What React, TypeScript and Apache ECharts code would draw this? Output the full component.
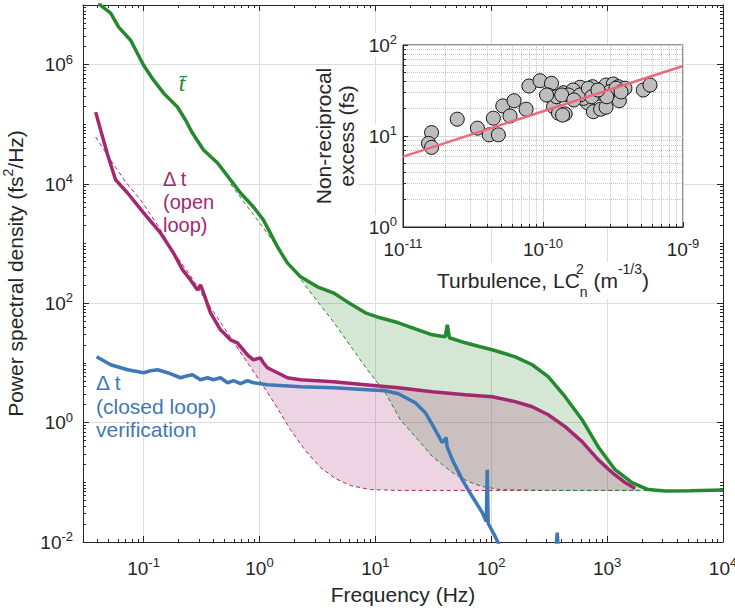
import React, { useEffect, useRef } from "react";
import * as echarts from "echarts";

const GREEN = "#26882f";
const PURPLE = "#a3296f";
const BLUE = "#3f78b5";
const INK = "#262626";
const FONT = "Liberation Sans, Arial, Helvetica, sans-serif";

// [frequency (Hz), PSD (fs^2/Hz)]
const greenSolid = [
  [0.0386, 1.45e7], [0.0426, 9.9e6], [0.052, 7.28e6], [0.0609, 4.25e6], [0.0773, 2.57e6],
  [0.1, 9.8e5], [0.122, 5.5e5], [0.149, 3.33e5], [0.196, 1.95e5], [0.23, 1.18e5],
  [0.264, 7.14e4], [0.329, 3.71e4], [0.435, 2.25e4], [0.562, 1.17e4], [0.686, 7.07e3],
  [0.888, 4.12e3], [1.08, 2.5e3], [1.24, 1.51e3], [1.43, 883], [1.74, 476], [2.26, 278],
  [3.16, 189], [4.34, 150], [6.09, 98], [8.2, 69.3], [11.0, 57.2], [15.8, 47.2], [22.1, 37.4],
  [31.0, 29.7], [40.1, 27.5], [41.8, 43.7], [43.5, 26.5], [59.7, 21.8], [80.4, 18.7],
  [102, 16.7], [161, 12.7], [226, 9.35], [310, 5.89], [434, 2.72], [608, 1.12], [836, 0.396],
  [1172, 0.163], [1643, 0.099], [2256, 0.0756], [3162, 0.0714], [5197, 0.0723], [10000, 0.0741],
];

const greenFit = [
  [0.562, 1.0e4], [1.08, 1.84e3], [1.74, 514], [2.65, 168], [4.34, 49], [6.09, 19.4],
  [8.53, 7.7], [12.2, 3.18], [16.4, 1.12], [22.1, 0.583], [31.0, 0.27], [46.1, 0.146],
  [63.4, 0.103], [83.6, 0.085], [120, 0.0756], [323, 0.0731], [2350, 0.0731],
];

const purpleSolid = [
  [0.0386, 1.6e5], [0.0426, 8.0e4], [0.049, 3.06e4], [0.0574, 1.17e4], [0.0728, 7.07e3],
  [0.1, 3.27e3], [0.14, 1.51e3], [0.181, 700], [0.217, 364], [0.254, 247], [0.292, 168],
  [0.31, 204], [0.329, 150], [0.378, 69.3], [0.461, 36], [0.562, 24.5], [0.646, 21.8],
  [0.788, 13.7], [0.888, 11.3], [1.02, 12.2], [1.08, 10.1], [1.17, 8.33], [1.43, 6.87],
  [1.74, 5.66], [2.26, 5.24], [4.34, 4.86], [8.2, 4.33], [15.8, 3.85], [31.0, 3.3],
  [59.7, 2.94], [102, 2.72], [161, 2.25], [226, 1.85], [310, 1.36], [434, 0.857],
  [608, 0.481], [836, 0.24], [1105, 0.146], [1430, 0.099], [1743, 0.0786],
];

const purpleFit = [
  [0.0386, 6.12e4], [0.052, 2.52e4], [0.07, 1.08e4], [0.0942, 5.4e3], [0.132, 2.06e3],
  [0.181, 728], [0.254, 289], [0.342, 114], [0.53, 32.1], [0.757, 11.3], [1.02, 4.86],
  [1.37, 2.0], [1.85, 0.764], [2.49, 0.34], [3.36, 0.177], [4.52, 0.116], [6.09, 0.0883],
  [9.06, 0.0756], [16.4, 0.0731], [1924, 0.0731],
];

const blueSolid = [
  [0.0393, 12.7], [0.052, 9.35], [0.0728, 7.71], [0.1, 6.87], [0.115, 7.42], [0.132, 7.71],
  [0.161, 6.87], [0.208, 5.66], [0.239, 6.12], [0.264, 6.36], [0.31, 5.24], [0.356, 5.66],
  [0.401, 5.24], [0.461, 5.66], [0.53, 4.67], [0.597, 5.05], [0.686, 4.5], [0.788, 5.05],
  [0.888, 4.67], [1.17, 4.33], [2.26, 4.01], [4.34, 3.85], [8.53, 3.57], [12.2, 3.43],
  [15.8, 3.06], [22.1, 2.16], [27.0, 1.47], [31.0, 0.926], [37.8, 0.463], [40.9, 0.561],
  [41.5, 0.4], [46.1, 0.24], [56.2, 0.111], [68.6, 0.0578], [83.6, 0.0312], [90.6, 0.022],
  [92.4, 0.163], [94.2, 0.0204], [108, 0.0124], [120, 0.0081], [264, 0.0051], [356, 0.0051],
  [371, 0.0144], [385, 0.0051], [871, 0.0035],
];

// shaded frequency ranges (Hz)
const greenBand = [2.2, 2400];
const pinkBand = [0.55, 2000];

// inset: [turbulence LCn^2 (m^-1/3), non-reciprocal excess (fs)]
const insetPoints = [
  [1.6e-11, 10.9], [1.52e-11, 8.3], [1.6e-11, 7.5], [2.44e-11, 15.3], [3.4e-11, 12.2],
  [4.13e-11, 10.3], [4.8e-11, 10.3], [4.42e-11, 15.7], [5.16e-11, 21.4], [5.81e-11, 16.6],
  [6.21e-11, 24.4], [7.57e-11, 19.7], [7.94e-11, 35.4], [9.52e-11, 40.5], [1.15e-10, 37.9],
  [1.09e-10, 28.2], [1.19e-10, 21.0], [1.29e-10, 17.8], [1.44e-10, 17.5], [1.4e-10, 29.9],
  [1.84e-10, 34.3], [2.07e-10, 23.2], [2.26e-10, 34.8], [2.29e-10, 18.5], [2.58e-10, 19.7],
  [2.82e-10, 20.7], [2.82e-10, 36.3], [3.18e-10, 37.3], [3.45e-10, 34.8], [3.85e-10, 33.5],
  [3.51e-10, 24.4], [5.2e-10, 32.0], [5.81e-10, 36.3], [1.64e-10, 32.0], [1.52e-10, 28.2],
  [1.25e-10, 27.0], [1.94e-10, 25.9], [2.55e-10, 29.5], [3.01e-10, 30.7], [1.84e-10, 28.2],
  [1.38e-10, 17.0], [1.06e-10, 28.2], [1.36e-10, 28.2], [2.11e-10, 33.5], [3.32e-10, 33.5],
  [2.23e-10, 27.0], [2.85e-10, 27.0], [1.66e-10, 24.9], [2.47e-10, 32.0], [3.61e-10, 30.5],
];
const fitLine = [[1e-11, 5.93], [1e-9, 58.8]];

const mainXLabels = [0.1, 1, 10, 100, 1000, 10000];
const mainYLabels = [0.01, 1, 100, 1e4, 1e6];
const insetXLabels = [1e-11, 1e-10, 1e-9];
const insetYLabels = [1, 10, 100];

function decadeTicks(fromExp: number, toExp: number, exclude: number[]) {
  const out: number[] = [];
  for (let e = fromExp; e <= toExp; e++) {
    for (let k = 1; k <= 9; k++) {
      const v = k * Math.pow(10, e);
      if (!exclude.some((x) => Math.abs(x - v) / v < 1e-9)) out.push(v);
    }
  }
  return out;
}

const powLabel = (v: number) => `{b|10}{s|${Math.round(Math.log10(v))}}`;
const tickRich = {
  b: { fontSize: 19, lineHeight: 24, color: INK, fontFamily: FONT },
  s: { fontSize: 13, verticalAlign: "top", color: INK, fontFamily: FONT },
};

function band(upper: number[][], lower: number[][], range: number[], color: string) {
  return (params: any, api: any) => {
    const up = upper.filter((p) => p[0] >= range[0] && p[0] <= range[1]).map((p) => api.coord(p));
    const dn = lower
      .filter((p) => p[0] >= range[0] && p[0] <= range[1])
      .map((p) => api.coord(p))
      .reverse();
    return { type: "polygon", shape: { points: up.concat(dn) }, style: { fill: color }, silent: true };
  };
}

export default function App() {
  const ref = useRef<HTMLDivElement>(null);
  useEffect(() => {
    if (!ref.current) return;
    const chart = echarts.init(ref.current, undefined, { renderer: "svg" });

    const mainGrid = { left: 83, top: 5, width: 640, height: 537, outerBoundsMode: "none", containLabel: false };
    const insetGrid = { left: 403, top: 45, width: 280, height: 182, outerBoundsMode: "none", containLabel: false };
    const xMinor = decadeTicks(-2, 3, mainXLabels);
    const yMinor = decadeTicks(-2, 6, mainYLabels);
    const ixMinor = decadeTicks(-11, -10, insetXLabels);
    const iyMinor = decadeTicks(0, 1, insetYLabels);

    const baseAxis = (extra: any) => ({
      type: "log",
      logBase: 10,
      z: 0,
      axisLine: { show: true, onZero: false, lineStyle: { color: INK, width: 1 } },
      axisTick: { show: true, inside: true, length: 6, lineStyle: { color: INK } },
      axisLabel: { show: false },
      splitLine: { show: false },
      minorTick: { show: false },
      ...extra,
    });

    const option: any = {
      animation: false,
      textStyle: { fontFamily: FONT },
      grid: [
        { ...mainGrid, show: false, z: 0 },
        { ...mainGrid, show: false, z: 0 },
        { ...insetGrid, show: true, backgroundColor: "#ffffff", borderColor: INK, borderWidth: 1, z: 3 },
        { ...insetGrid, show: false, z: 3 },
      ],
      xAxis: [
        baseAxis({
          gridIndex: 0, position: "bottom", min: 0.03, max: 1e4,
          axisTick: { show: true, inside: true, length: 6, customValues: mainXLabels, lineStyle: { color: INK } },
          axisLabel: { show: true, customValues: mainXLabels, formatter: powLabel, rich: tickRich, margin: 14 },
          splitLine: { show: true, lineStyle: { color: "#dedede", width: 1 } },
          name: "Frequency (Hz)", nameLocation: "middle", nameGap: 42,
          nameTextStyle: { fontSize: 21, color: INK, fontFamily: FONT },
        }),
        baseAxis({
          gridIndex: 0, position: "top", min: 0.03, max: 1e4,
          axisTick: { show: true, inside: true, length: 6, customValues: mainXLabels, lineStyle: { color: INK } },
        }),
        baseAxis({
          gridIndex: 1, position: "bottom", min: 0.03, max: 1e4,
          axisLine: { show: false },
          axisTick: { show: true, inside: true, length: 3, customValues: xMinor, lineStyle: { color: INK } },
        }),
        baseAxis({
          gridIndex: 1, position: "top", min: 0.03, max: 1e4,
          axisLine: { show: false },
          axisTick: { show: true, inside: true, length: 3, customValues: xMinor, lineStyle: { color: INK } },
        }),
        baseAxis({
          gridIndex: 2, position: "bottom", min: 1e-11, max: 1e-9, z: 4,
          axisLine: { show: true, onZero: false, lineStyle: { color: INK } },
          axisTick: { show: true, inside: true, length: 5, customValues: insetXLabels, lineStyle: { color: INK } },
          axisLabel: {
            show: true, customValues: insetXLabels, formatter: powLabel, rich: tickRich, margin: 10,
            backgroundColor: "#ffffff",
          },
          splitLine: { show: true, lineStyle: { color: "#d4d4d4", width: 1 } },
          name: "Turbulence, LC{up|2}{dn|n} (m{sp|-1/3})", nameLocation: "middle", nameGap: 29,
          nameTextStyle: {
            fontSize: 21, lineHeight: 37, color: INK, fontFamily: FONT, backgroundColor: "#ffffff",
            rich: {
              up: { fontSize: 14, lineHeight: 16, verticalAlign: "top", width: 0, color: INK, fontFamily: FONT },
              dn: { fontSize: 14, lineHeight: 16, verticalAlign: "bottom", color: INK, fontFamily: FONT },
              sp: { fontSize: 14, lineHeight: 16, verticalAlign: "top", color: INK, fontFamily: FONT },
            },
          },
        }),
        baseAxis({
          gridIndex: 3, position: "bottom", min: 1e-11, max: 1e-9, z: 4,
          axisLine: { show: false },
          axisTick: { show: true, inside: true, length: 3, customValues: ixMinor, lineStyle: { color: INK } },
          splitLine: { show: true, lineStyle: { color: "#c4c4c4", width: 1, type: "dotted" } },
        }),
      ],
      yAxis: [
        baseAxis({
          gridIndex: 0, position: "left", min: 0.01, max: 1e7,
          axisTick: { show: true, inside: true, length: 6, customValues: mainYLabels, lineStyle: { color: INK } },
          axisLabel: { show: true, customValues: mainYLabels, formatter: powLabel, rich: tickRich, margin: 10 },
          splitLine: { show: true, lineStyle: { color: "#dedede", width: 1 } },
          name: "Power spectral density (fs{s|2}/Hz)", nameLocation: "middle", nameGap: 38, nameRotate: 90,
          nameTextStyle: {
            fontSize: 21, lineHeight: 28, color: INK, fontFamily: FONT,
            rich: { s: { fontSize: 14, verticalAlign: "top", color: INK, fontFamily: FONT } },
          },
        }),
        baseAxis({
          gridIndex: 0, position: "right", min: 0.01, max: 1e7,
          axisTick: { show: true, inside: true, length: 6, customValues: mainYLabels, lineStyle: { color: INK } },
        }),
        baseAxis({
          gridIndex: 1, position: "left", min: 0.01, max: 1e7,
          axisLine: { show: false },
          axisTick: { show: true, inside: true, length: 3, customValues: yMinor, lineStyle: { color: INK } },
        }),
        baseAxis({
          gridIndex: 1, position: "right", min: 0.01, max: 1e7,
          axisLine: { show: false },
          axisTick: { show: true, inside: true, length: 3, customValues: yMinor, lineStyle: { color: INK } },
        }),
        baseAxis({
          gridIndex: 2, position: "left", min: 1, max: 100, z: 4,
          axisTick: { show: true, inside: true, length: 5, customValues: insetYLabels, lineStyle: { color: INK } },
          axisLabel: {
            show: true, customValues: insetYLabels, formatter: powLabel, rich: tickRich, margin: 6,
            backgroundColor: "#ffffff",
          },
          splitLine: { show: true, lineStyle: { color: "#d4d4d4", width: 1 } },
          name: "Non-reciprocal\nexcess (fs)", nameLocation: "middle", nameGap: 45, nameRotate: 90,
          nameTextStyle: { fontSize: 21, lineHeight: 23, color: INK, fontFamily: FONT, backgroundColor: "#ffffff" },
        }),
        baseAxis({
          gridIndex: 3, position: "left", min: 1, max: 100, z: 4,
          axisLine: { show: false },
          axisTick: { show: true, inside: true, length: 3, customValues: iyMinor, lineStyle: { color: INK } },
          splitLine: { show: true, lineStyle: { color: "#c4c4c4", width: 1, type: "dotted" } },
        }),
      ],
      series: [
        {
          type: "custom", xAxisIndex: 0, yAxisIndex: 0, data: [[1, 1]], z: 1, silent: true,
          renderItem: band(greenSolid, greenFit, greenBand, "rgba(38,136,47,0.2)"),
        },
        {
          type: "custom", xAxisIndex: 0, yAxisIndex: 0, data: [[1, 1]], z: 1, silent: true,
          renderItem: band(purpleSolid, purpleFit, pinkBand, "rgba(163,41,111,0.2)"),
        },
        {
          type: "line", xAxisIndex: 0, yAxisIndex: 0, data: purpleFit, symbol: "none", z: 2, clip: true,
          lineStyle: { color: PURPLE, width: 1, type: [4, 3] },
        },
        {
          type: "line", xAxisIndex: 0, yAxisIndex: 0, data: greenFit, symbol: "none", z: 2, clip: true,
          lineStyle: { color: GREEN, width: 1, type: [4, 3] },
        },
        {
          type: "line", xAxisIndex: 0, yAxisIndex: 0, data: blueSolid, symbol: "none", z: 2, clip: true,
          lineStyle: { color: BLUE, width: 3.5 },
        },
        {
          type: "line", xAxisIndex: 0, yAxisIndex: 0, data: purpleSolid, symbol: "none", z: 2, clip: true,
          lineStyle: { color: PURPLE, width: 3.5 },
        },
        {
          type: "line", xAxisIndex: 0, yAxisIndex: 0, data: greenSolid, symbol: "none", z: 2, clip: true,
          lineStyle: { color: GREEN, width: 3.5 },
        },
        {
          type: "scatter", xAxisIndex: 4, yAxisIndex: 4, data: insetPoints, z: 5, symbolSize: 14,
          itemStyle: { color: "#bebebe", borderColor: "#111111", borderWidth: 1, opacity: 1 },
        },
        {
          type: "line", xAxisIndex: 4, yAxisIndex: 4, data: fitLine, symbol: "none", z: 6,
          lineStyle: { color: "#ec6a7c", width: 2.5 },
        },
      ],
      graphic: [
        {
          type: "text", x: 182, y: 83, z: 10,
          style: {
            text: "t\u0304", fill: GREEN, font: 'italic 24px "Liberation Serif", serif',
            align: "center", verticalAlign: "middle",
          },
        },
        {
          type: "text", x: 163, y: 167, z: 10,
          style: {
            text: "\u0394 t\n(open\nloop)", fill: PURPLE, font: `20px ${FONT}`, lineHeight: 23,
            align: "left", verticalAlign: "top",
          },
        },
        {
          type: "text", x: 96, y: 371, z: 10,
          style: {
            text: "\u0394 t\n(closed loop)\nverification", fill: BLUE, font: `21px ${FONT}`, lineHeight: 23.5,
            align: "left", verticalAlign: "top",
          },
        },
      ],
    };

    chart.setOption(option);
    return () => chart.dispose();
  }, []);

  return (
    <div
      ref={ref}
      style={{ position: "fixed", left: 0, top: 0, width: 735, height: 610, background: "#ffffff" }}
    />
  );
}
